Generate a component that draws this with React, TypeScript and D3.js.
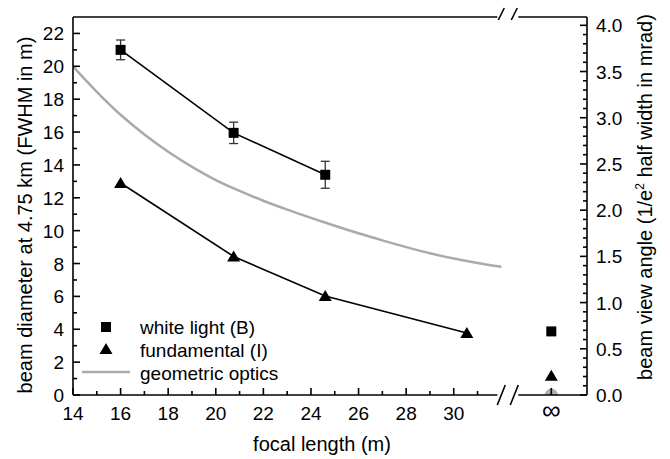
import { useEffect, useRef } from "react";
import * as d3 from "d3";

// white light (B) measurements with error bars
const whiteFocal = [16, 20.75, 24.6];
const whiteDiam = [21.0, 15.95, 13.4];
const whiteErr = [0.6, 0.65, 0.82];

// fundamental (I)
const fundFocal = [16, 20.75, 24.6, 30.55];
const fundDiam = [12.9, 8.43, 6.02, 3.77];

// values at infinite focal length
const infWhite = 3.87;
const infFund = 1.17;
const infGeom = 0;

// geometric optics curve
const geomFocal = [14, 15, 16, 17, 18, 19, 20, 21, 22, 23, 24, 25, 26, 27, 28, 29, 30, 31, 32];
const geomDiam = [20.0, 18.45, 17.05, 15.85, 14.8, 13.88, 13.08, 12.42, 11.82, 11.28, 10.78, 10.3, 9.84, 9.41, 9.0, 8.62, 8.3, 8.03, 7.8];

const xMajor = [14, 16, 18, 20, 22, 24, 26, 28, 30];
const xMinor = [15, 17, 19, 21, 23, 25, 27, 29, 31];
const yMajor = [0, 2, 4, 6, 8, 10, 12, 14, 16, 18, 20, 22];
const yMinor = [1, 3, 5, 7, 9, 11, 13, 15, 17, 19, 21];
const rMajor = [0, 0.5, 1, 1.5, 2, 2.5, 3, 3.5, 4];

const INF_POS = 34.1;
const BREAK_POS = 32.25;

export default function App() {
  const ref = useRef<SVGSVGElement>(null);

  useEffect(() => {
    const svg = d3.select(ref.current);
    svg.selectAll("*").remove();

    const left = 73, right = 587, top = 17, bottom = 395;
    const font = "'Liberation Sans', Arial, sans-serif";

    const x = d3.scaleLinear().domain([14, 35.6]).range([left, right]);
    const y = d3.scaleLinear().domain([0, 23]).range([bottom, top]);
    const yr = d3.scaleLinear().domain([0, 4.09]).range([bottom, top]);

    svg.append("defs").append("clipPath").attr("id", "plot")
      .append("rect").attr("x", left).attr("y", top)
      .attr("width", right - left).attr("height", bottom - top);

    const g = svg.append("g").attr("clip-path", "url(#plot)");

    // geometric optics
    const line = d3.line<number>().x((_, i) => x(geomFocal[i])).y(d => y(d)).curve(d3.curveCatmullRom);
    g.append("path").attr("d", line(geomDiam)).attr("fill", "none")
      .attr("stroke", "#aaaaaa").attr("stroke-width", 2.5);
    g.append("circle").attr("cx", x(INF_POS)).attr("cy", y(infGeom)).attr("r", 6.5).attr("fill", "#b0b0b0");

    // measured lines
    g.append("path")
      .attr("d", d3.line<number>().x((_, i) => x(whiteFocal[i])).y(d => y(d))(whiteDiam))
      .attr("fill", "none").attr("stroke", "#000").attr("stroke-width", 1.6);
    g.append("path")
      .attr("d", d3.line<number>().x((_, i) => x(fundFocal[i])).y(d => y(d))(fundDiam))
      .attr("fill", "none").attr("stroke", "#000").attr("stroke-width", 1.6);

    // error bars
    whiteDiam.forEach((d, i) => {
      const cx = x(whiteFocal[i]);
      const y1 = y(d - whiteErr[i]), y2 = y(d + whiteErr[i]);
      const eb = g.append("g").attr("stroke", "#333").attr("stroke-width", 1.3);
      eb.append("line").attr("x1", cx).attr("x2", cx).attr("y1", y1).attr("y2", y2);
      eb.append("line").attr("x1", cx - 4.5).attr("x2", cx + 4.5).attr("y1", y1).attr("y2", y1);
      eb.append("line").attr("x1", cx - 4.5).attr("x2", cx + 4.5).attr("y1", y2).attr("y2", y2);
    });

    const square = (cx: number, cy: number) =>
      svg.append("rect").attr("x", cx - 5).attr("y", cy - 5).attr("width", 10).attr("height", 10).attr("fill", "#000");
    const triangle = (cx: number, cy: number) =>
      svg.append("path").attr("d", `M${cx},${cy - 6}L${cx + 6.5},${cy + 5}L${cx - 6.5},${cy + 5}Z`).attr("fill", "#000");

    whiteDiam.forEach((d, i) => square(x(whiteFocal[i]), y(d)));
    fundDiam.forEach((d, i) => triangle(x(fundFocal[i]), y(d)));
    square(x(INF_POS), y(infWhite));
    triangle(x(INF_POS), y(infFund));

    // frame with breaks
    const ax = svg.append("g").attr("stroke", "#000").attr("stroke-width", 1.6).attr("fill", "none");
    const gapL = x(BREAK_POS) - 10, gapR = x(BREAK_POS) + 11;
    ax.append("line").attr("x1", left).attr("x2", gapL).attr("y1", bottom).attr("y2", bottom);
    ax.append("line").attr("x1", gapR).attr("x2", right).attr("y1", bottom).attr("y2", bottom);
    ax.append("line").attr("x1", left).attr("x2", gapL).attr("y1", top).attr("y2", top);
    ax.append("line").attr("x1", gapR).attr("x2", right).attr("y1", top).attr("y2", top);
    ax.append("line").attr("x1", left).attr("x2", left).attr("y1", top).attr("y2", bottom);
    ax.append("line").attr("x1", right).attr("x2", right).attr("y1", top).attr("y2", bottom);
    [-6, 7].forEach(o => {
      const bx = x(BREAK_POS) + o;
      ax.append("line").attr("x1", bx - 4).attr("x2", bx + 4).attr("y1", bottom + 10).attr("y2", bottom - 10);
      ax.append("line").attr("x1", bx - 3).attr("x2", bx + 3).attr("y1", top + 3).attr("y2", top - 9);
    });

    // ticks (inside)
    xMajor.concat([INF_POS]).forEach(v =>
      ax.append("line").attr("x1", x(v)).attr("x2", x(v)).attr("y1", bottom).attr("y2", bottom - 7));
    xMinor.forEach(v =>
      ax.append("line").attr("x1", x(v)).attr("x2", x(v)).attr("y1", bottom).attr("y2", bottom - 4));
    yMajor.forEach(v =>
      ax.append("line").attr("x1", left).attr("x2", left + 7).attr("y1", y(v)).attr("y2", y(v)));
    yMinor.forEach(v =>
      ax.append("line").attr("x1", left).attr("x2", left + 4).attr("y1", y(v)).attr("y2", y(v)));
    d3.range(0, 41).map(i => i / 10).forEach((v, i) => {
      const len = i % 5 === 0 ? 7 : 4;
      ax.append("line").attr("x1", right).attr("x2", right - len).attr("y1", yr(v)).attr("y2", yr(v));
    });

    const text = svg.append("g").attr("font-family", font).attr("font-size", 19).attr("fill", "#000");
    xMajor.forEach(v =>
      text.append("text").attr("x", x(v)).attr("y", bottom + 25).attr("text-anchor", "middle").text(v));
    text.append("text").attr("x", x(INF_POS)).attr("y", bottom + 24).attr("text-anchor", "middle")
      .attr("font-size", 26).text("∞");
    yMajor.forEach(v =>
      text.append("text").attr("x", left - 9).attr("y", y(v) + 7).attr("text-anchor", "end").text(v));
    rMajor.forEach(v =>
      text.append("text").attr("x", right + 9).attr("y", yr(v) + 7).text(d3.format(".1f")(v)));

    const title = text.append("g").attr("font-size", 20);
    title.append("text").attr("x", 322).attr("y", 451).attr("text-anchor", "middle").text("focal length (m)");
    title.append("text").attr("transform", `translate(32,215) rotate(-90)`).attr("text-anchor", "middle")
      .text("beam diameter at 4.75 km (FWHM in m)");
    const rt = title.append("text").attr("transform", `translate(652,197) rotate(-90)`).attr("text-anchor", "middle");
    rt.append("tspan").text("beam view angle (1/e");
    rt.append("tspan").attr("font-size", 12).attr("dy", -8).text("2");
    rt.append("tspan").attr("dy", 8).text(" half width in mrad)");

    // legend
    square(106, 327);
    text.append("text").attr("x", 140).attr("y", 334).text("white light (B)");
    triangle(106, 349);
    text.append("text").attr("x", 140).attr("y", 357).text("fundamental (I)");
    svg.append("line").attr("x1", 82).attr("x2", 130).attr("y1", 372).attr("y2", 372)
      .attr("stroke", "#aaaaaa").attr("stroke-width", 2.5);
    text.append("text").attr("x", 140).attr("y", 380).text("geometric optics");
  }, []);

  return (
    <svg ref={ref} width={670} height={459}
      style={{ position: "absolute", left: 0, top: 0, background: "#fff" }} />
  );
}
